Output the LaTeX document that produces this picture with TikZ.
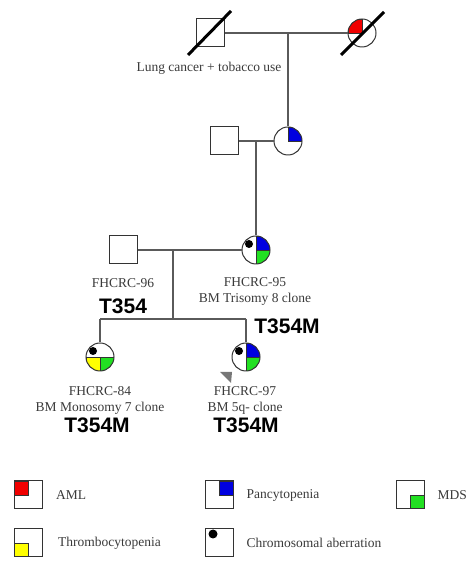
\documentclass[tikz,border=0pt]{standalone}
\usepackage{fontspec}
\setmainfont{Liberation Serif}
\setsansfont{Liberation Sans}
\usepackage{tikz}
\usetikzlibrary{positioning}

\definecolor{symline}{HTML}{333333}
\definecolor{pedline}{HTML}{5A5A5A}
\definecolor{txtgray}{HTML}{3A3A3A}
\definecolor{amlred}{HTML}{F00000}
\definecolor{pancblue}{HTML}{0000E0}
\definecolor{mdsgreen}{HTML}{22E022}
\definecolor{thryellow}{HTML}{FFFF00}
\definecolor{probgray}{HTML}{777777}

\begin{document}
\begin{tikzpicture}[
    x=1pt, y=1pt,
    male/.style={rectangle, draw=symline, line width=1pt, fill=white, minimum size=28pt, inner sep=0pt},
    female/.style={circle, draw=symline, line width=1pt, fill=white, minimum size=28pt, inner sep=0pt},
    quad/.style={path picture={
        \foreach \a/\c in {#1} {
            \filldraw[fill=\c, draw=symline, line width=0.8pt]
                (path picture bounding box.center) rectangle (path picture bounding box.\a);
        }}},
    aberr/.style={label={[circle, fill=black, inner sep=0pt, minimum size=8pt, xshift=-7pt, yshift=6pt]center:{}}},
    legaberr/.style={label={[circle, fill=black, inner sep=0pt, minimum size=9pt, xshift=-6pt, yshift=9pt]center:{}}},
    line/.style={draw=pedline, line width=1.2pt},
    deceased/.style={black, line width=3pt},
    info/.style={font=\fontsize{13.5}{16}\selectfont, text=txtgray, align=center, inner sep=0pt},
    mut/.style={font=\fontsize{21}{24}\selectfont\sffamily\bfseries, inner sep=0pt},
    legtext/.style={font=\fontsize{13.5}{16}\selectfont, text=txtgray, inner sep=0pt}
]
\useasboundingbox (0,0) rectangle (469,561);

% -------- Generation I --------
\node[male] (gf) at (210,528) {};
\node[female, quad={north west/amlred}] (gm) at (362,528) {};
\node[info] (lung) at (209,493) {Lung cancer + tobacco use};
\coordinate (c1) at (288,528);

% -------- Generation II --------
\node[male] (f2) at (224,420) {};
\node[female, quad={north east/pancblue}] (m2) at (288,420) {};
\coordinate (c2) at (256,420);

% -------- Generation III --------
\node[male] (f3) at (123,311) {};
\node[female, quad={north east/pancblue, south east/mdsgreen}, aberr] (m3) at (256,311) {};
\coordinate (c3) at (173,311);
\coordinate (sib) at (173,242);
\coordinate (sl) at (100,242);
\coordinate (sr) at (246,242);

\node[info] (n96) at (123,278) {FHCRC-96};
\node[mut] (m96) at (123,255) {T354};
\node[info] (n95) at (255,270) {FHCRC-95\\BM Trisomy 8 clone};
\node[mut] (m95) at (287,235) {T354M};

% -------- Generation IV --------
\node[female, quad={south west/thryellow, south east/mdsgreen}, aberr] (k1) at (100,204) {};
\node[female, quad={north east/pancblue, south east/mdsgreen}, aberr] (k2) at (246,204) {};

\node[info] (n84) at (100,161) {FHCRC-84\\BM Monosomy 7 clone};
\node[mut] (m84) at (97,136) {T354M};
\node[info] (n97) at (245,161) {FHCRC-97\\BM 5q- clone};
\node[mut] (m97) at (246,136) {T354M};

% -------- Lines --------
\draw[line] (gf) -- (gm);
\draw[line] (c1) -- (m2);
\draw[line] (f2) -- (m2);
\draw[line] (c2) -- (m3);
\draw[line] (f3) -- (m3);
\draw[line] (c3) -- (sib);
\draw[line] (sl) -- (sr);
\draw[line] (sl) -- (k1);
\draw[line] (sr) -- (k2);

% deceased
\draw[deceased] ([shift={(-22,-22)}]gf.center) -- ([shift={(21,22)}]gf.center);
\draw[deceased] ([shift={(-21,-22)}]gm.center) -- ([shift={(22,21)}]gm.center);

% proband
\fill[probgray] ([shift={(-26,-15)}]k2.center) -- ++(12,0) -- ++(-1,-11) -- cycle;

% -------- Legend --------
\node[male, quad={north west/amlred}] (lg1) at (28.5,66) {};
\node[legtext, right=13pt of lg1] (lt1) {AML};
\node[male, quad={north east/pancblue}] (lg2) at (219,66) {};
\node[legtext, right=13pt of lg2] (lt2) {Pancytopenia};
\node[male, quad={south east/mdsgreen}] (lg3) at (410,66) {};
\node[legtext, right=13pt of lg3] (lt3) {MDS};
\node[male, quad={south west/thryellow}] (lg4) at (28.5,18) {};
\node[legtext, right=15pt of lg4] (lt4) {Thrombocytopenia};
\node[male, legaberr] (lg5) at (219,18) {};
\node[legtext, right=13pt of lg5] (lt5) {Chromosomal aberration};

\end{tikzpicture}
\end{document}
